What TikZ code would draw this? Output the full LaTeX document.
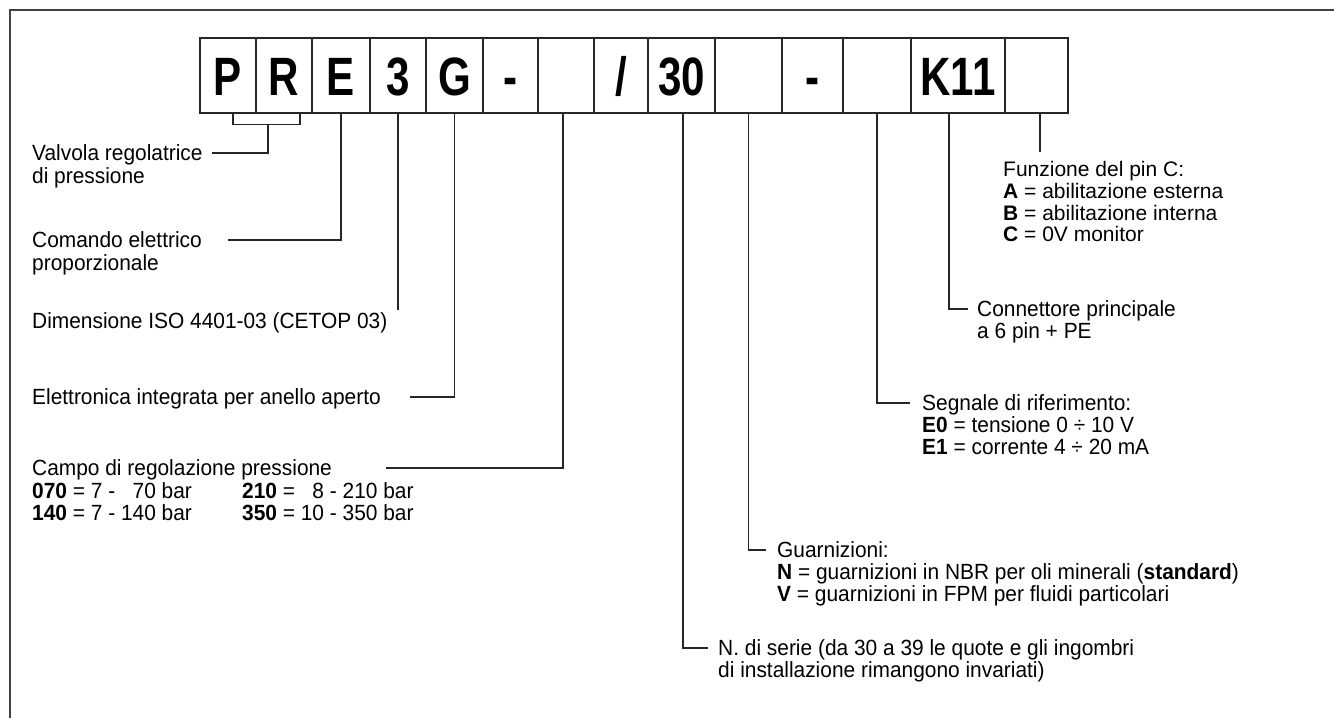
\documentclass[tikz,border=0pt]{standalone}
\usepackage{fontspec}
\setmainfont{Liberation Sans}[FakeStretch=0.95]
\newfontfamily\boxfont[FakeStretch=0.78]{Liberation Sans}
\newfontfamily\pinfont{Liberation Sans}
\begin{document}
\begin{tikzpicture}[x=1pt,y=-1pt,
  frame/.style={draw=black!75, line width=2.2pt},
  cell/.style={draw=black!85, line width=1.1pt, minimum height=75pt, inner sep=0pt,
    text height=39pt, text depth=0pt, font=\boxfont\bfseries\fontsize{54}{54}\selectfont},
  lead/.style={draw=black!85, line width=1.1pt},
  lbl/.style={anchor=base west, inner sep=0pt, font=\fontsize{22}{24}\selectfont},
  pin/.style={lbl, font=\pinfont\fontsize{21}{23}\selectfont}]
\useasboundingbox (0,0) rectangle (1334,718);
\draw[frame] (10,718) -- (10,10) -- (1334,10);

% code boxes
\node[cell, minimum width=56pt] (b1)  at (228,75.5)   {P};
\node[cell, minimum width=56pt] (b2)  at (284,75.5)   {R};
\node[cell, minimum width=58pt] (b3)  at (341,75.5)   {E};
\node[cell, minimum width=56pt] (b4)  at (398,75.5)   {3};
\node[cell, minimum width=57pt] (b5)  at (454.5,75.5) {G};
\node[cell, minimum width=55pt] (b6)  at (510.5,75.5) {-};
\node[cell, minimum width=56pt] (b7)  at (566,75.5)   {};
\node[cell, minimum width=54pt] (b8)  at (621,75.5)   {/};
\node[cell, minimum width=67pt] (b9)  at (681.5,75.5) {30};
\node[cell, minimum width=67pt] (b10) at (748.5,75.5) {};
\node[cell, minimum width=61pt] (b11) at (812.5,75.5) {-};
\node[cell, minimum width=68pt] (b12) at (877,75.5)   {};
\node[cell, minimum width=94pt] (b13) at (958,75.5)   {K11};
\node[cell, minimum width=63pt] (b14) at (1036.5,75.5) {};

% connector end points
\coordinate (prm) at (268,124);
\coordinate (cV)  at (212,153);
\coordinate (cE)  at (228,240);
\coordinate (c3)  at (398,310);
\coordinate (cG)  at (410,397);
\coordinate (cC)  at (386,468);
\coordinate (cS)  at (708,648);
\coordinate (cGu) at (766,550);
\coordinate (cSe) at (910,403);
\coordinate (cK)  at (968,309);
\coordinate (cF)  at (1040,152);

% connectors
\draw[lead] ([xshift=5pt]b1.south) -- ++(0,11) -| ([xshift=16pt]b2.south);
\draw[lead] (prm) |- (cV);
\draw[lead] (b3.south) |- (cE);
\draw[lead] (b4.south) -- (b4.south |- c3);
\draw[lead] (b5.south) |- (cG);
\draw[lead] ([xshift=-3pt]b7.south) |- (cC);
\draw[lead] ([xshift=1.5pt]b9.south) |- (cS);
\draw[lead] (b10.south) |- (cGu);
\draw[lead] (b12.south) |- (cSe);
\draw[lead] ([xshift=-9pt]b13.south) |- (cK);
\draw[lead] ([xshift=3.5pt]b14.south) -- (cF);

% left labels
\node[lbl] (tV1) at (32,160) {Valvola regolatrice};
\node[lbl] (tV2) at (32,183) {di pressione};
\node[lbl] (tE1) at (32,247) {Comando elettrico};
\node[lbl] (tE2) at (32,270) {proporzionale};
\node[lbl] (tD)  at (32,328) {Dimensione ISO 4401-03 (CETOP 03)};
\node[lbl] (tG)  at (32,404) {Elettronica integrata per anello aperto};
\node[lbl] (tC)  at (32,475) {Campo di regolazione pressione};
\node[lbl] (tC1) at (32,498) {\textbf{070} = 7 - \phantom{1}70 bar};
\node[lbl] (tC2) at (32,520) {\textbf{140} = 7 - 140 bar};
\node[lbl] (tC3) at (242,498) {\textbf{210} = \phantom{1}8 - 210 bar};
\node[lbl] (tC4) at (242,520) {\textbf{350} = 10 - 350 bar};

% right labels
\node[pin] (tF)  at (1003,176) {Funzione del pin C:};
\node[pin] (tF1) at (1003,198) {\textbf{A} = abilitazione esterna};
\node[pin] (tF2) at (1003,220) {\textbf{B} = abilitazione interna};
\node[pin] (tF3) at (1003,241) {\textbf{C} = 0V monitor};
\node[lbl] (tK1) at (977,316) {Connettore principale};
\node[lbl] (tK2) at (977,338) {a 6 pin + PE};
\node[lbl] (tS)  at (922,410) {Segnale di riferimento:};
\node[lbl] (tS1) at (922,432) {\textbf{E0} = tensione 0 ÷ 10 V};
\node[lbl] (tS2) at (922,454) {\textbf{E1} = corrente 4 ÷ 20 mA};
\node[lbl] (tGu) at (777,557) {Guarnizioni:};
\node[lbl] (tGu1) at (777,579) {\textbf{N} = guarnizioni in NBR per oli minerali (\textbf{standard})};
\node[lbl] (tGu2) at (777,601) {\textbf{V} = guarnizioni in FPM per fluidi particolari};
\node[lbl] (tN1) at (718,655) {N. di serie (da 30 a 39 le quote e gli ingombri};
\node[lbl] (tN2) at (718,677) {di installazione rimangono invariati)};
\end{tikzpicture}
\end{document}
